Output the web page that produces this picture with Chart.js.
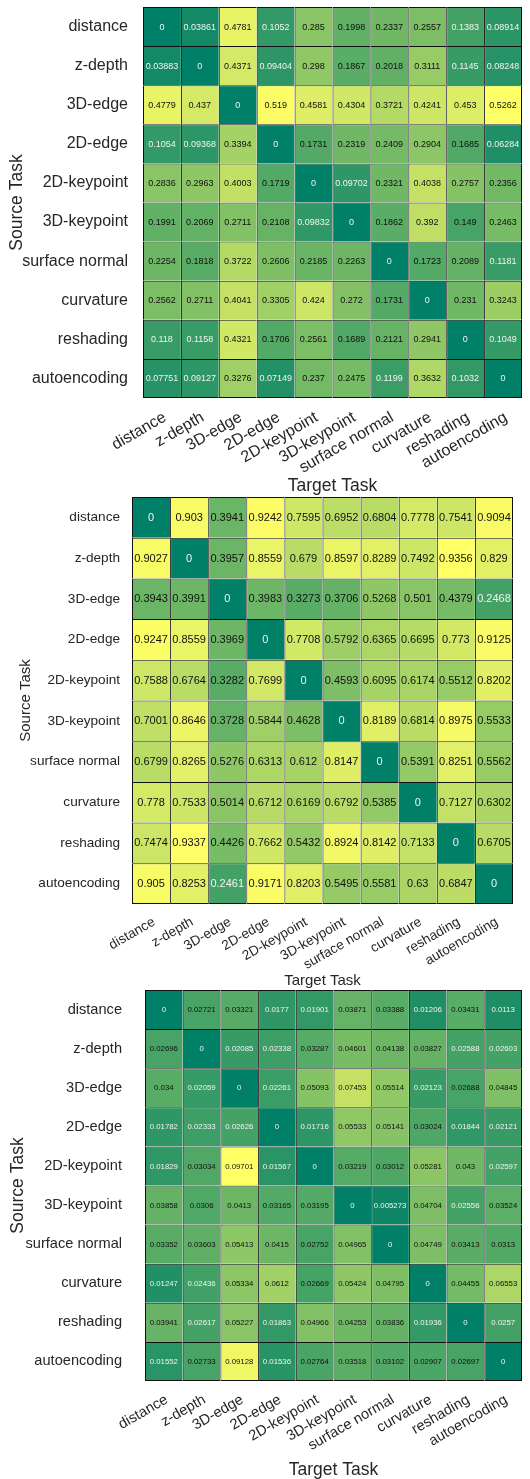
<!DOCTYPE html>
<html>
<head>
<meta charset="utf-8">
<script src="https://cdn.jsdelivr.net/npm/chart.js@4"></script>
<style>
  html, body { margin: 0; padding: 0; background: #fff; }
  body { width: 530px; height: 1479px; position: relative; overflow: hidden; }
  canvas { position: absolute; left: 0; }
</style>
</head>
<body>
<canvas id="map1" width="530" height="500" style="top:0px"></canvas>
<canvas id="map2" width="530" height="500" style="top:495px"></canvas>
<canvas id="map3" width="530" height="494" style="top:985px"></canvas>
<script>
// task names (rows = source, columns = target)
const sourceTasks = ['distance', 'z-depth', '3D-edge', '2D-edge', '2D-keypoint', '3D-keypoint',
    'surface normal', 'curvature', 'reshading', 'autoencoding'];
const targetTasks = ['distance', 'z-depth', '3D-edge', '2D-edge', '2D-keypoint', '3D-keypoint',
    'surface normal', 'curvature', 'reshading', 'autoencoding'];

// top heatmap
const valuesTop = [
    [0, 0.03861, 0.4781, 0.1052, 0.285, 0.1998, 0.2337, 0.2557, 0.1383, 0.08914],
    [0.03883, 0, 0.4371, 0.09404, 0.298, 0.1867, 0.2018, 0.3111, 0.1145, 0.08248],
    [0.4779, 0.437, 0, 0.519, 0.4581, 0.4304, 0.3721, 0.4241, 0.453, 0.5262],
    [0.1054, 0.09368, 0.3394, 0, 0.1731, 0.2319, 0.2409, 0.2904, 0.1685, 0.06284],
    [0.2836, 0.2963, 0.4003, 0.1719, 0, 0.09702, 0.2321, 0.4038, 0.2757, 0.2356],
    [0.1991, 0.2069, 0.2711, 0.2108, 0.09832, 0, 0.1862, 0.392, 0.149, 0.2463],
    [0.2254, 0.1818, 0.3722, 0.2606, 0.2185, 0.2263, 0, 0.1723, 0.2089, 0.1181],
    [0.2562, 0.2711, 0.4041, 0.3305, 0.424, 0.272, 0.1731, 0, 0.231, 0.3243],
    [0.118, 0.1158, 0.4321, 0.1706, 0.2561, 0.1689, 0.2121, 0.2941, 0, 0.1049],
    [0.07751, 0.09127, 0.3276, 0.07149, 0.237, 0.2475, 0.1199, 0.3632, 0.1032, 0]
];

// middle heatmap
const valuesMid = [
    [0, 0.903, 0.3941, 0.9242, 0.7595, 0.6952, 0.6804, 0.7778, 0.7541, 0.9094],
    [0.9027, 0, 0.3957, 0.8559, 0.679, 0.8597, 0.8289, 0.7492, 0.9356, 0.829],
    [0.3943, 0.3991, 0, 0.3983, 0.3273, 0.3706, 0.5268, 0.501, 0.4379, 0.2468],
    [0.9247, 0.8559, 0.3969, 0, 0.7708, 0.5792, 0.6365, 0.6695, 0.773, 0.9125],
    [0.7588, 0.6764, 0.3282, 0.7699, 0, 0.4593, 0.6095, 0.6174, 0.5512, 0.8202],
    [0.7001, 0.8646, 0.3728, 0.5844, 0.4628, 0, 0.8189, 0.6814, 0.8975, 0.5533],
    [0.6799, 0.8265, 0.5276, 0.6313, 0.612, 0.8147, 0, 0.5391, 0.8251, 0.5562],
    [0.778, 0.7533, 0.5014, 0.6712, 0.6169, 0.6792, 0.5385, 0, 0.7127, 0.6302],
    [0.7474, 0.9337, 0.4426, 0.7662, 0.5432, 0.8924, 0.8142, 0.7133, 0, 0.6705],
    [0.905, 0.8253, 0.2461, 0.9171, 0.8203, 0.5495, 0.5581, 0.63, 0.6847, 0]
];

// bottom heatmap
const valuesBottom = [
    [0, 0.02721, 0.03321, 0.0177, 0.01901, 0.03871, 0.03388, 0.01206, 0.03431, 0.0113],
    [0.02696, 0, 0.02085, 0.02338, 0.03287, 0.04601, 0.04138, 0.03827, 0.02588, 0.02603],
    [0.034, 0.02059, 0, 0.02261, 0.05093, 0.07453, 0.05514, 0.02123, 0.02688, 0.04845],
    [0.01782, 0.02333, 0.02626, 0, 0.01716, 0.05533, 0.05141, 0.03024, 0.01844, 0.02121],
    [0.01829, 0.03034, 0.09701, 0.01567, 0, 0.03219, 0.03012, 0.05281, 0.043, 0.02597],
    [0.03858, 0.0306, 0.0413, 0.03165, 0.03195, 0, 0.005273, 0.04704, 0.02556, 0.03524],
    [0.03352, 0.03603, 0.05413, 0.0415, 0.02752, 0.04965, 0, 0.04749, 0.03413, 0.0313],
    [0.01247, 0.02436, 0.05334, 0.0612, 0.02669, 0.05424, 0.04795, 0, 0.04455, 0.06553],
    [0.03941, 0.02617, 0.05227, 0.01863, 0.04966, 0.04253, 0.03836, 0.01936, 0, 0.0257],
    [0.01552, 0.02733, 0.09128, 0.01536, 0.02764, 0.03518, 0.03102, 0.02907, 0.02697, 0]
];

const FONT = '"Liberation Sans", Arial, Helvetica, sans-serif';
const TEXT = '#262626';

// matlab "summer" colormap
function summer(t) {
    t = Math.max(0, Math.min(1, t));
    return 'rgb(' + Math.round(255 * t) + ',' + Math.round(255 * (0.5 + 0.5 * t)) + ',102)';
}

function fmt(v) {
    return String(parseFloat(v.toPrecision(4)));
}

// writes the value inside every cell
const cellLabels = {
    id: 'cellLabels',
    afterDatasetsDraw(chart, args, opts) {
        const ctx = chart.ctx;
        ctx.save();
        ctx.font = opts.size + 'px ' + FONT;
        ctx.textAlign = 'center';
        ctx.textBaseline = 'middle';
        chart.data.datasets.forEach((ds, i) => {
            chart.getDatasetMeta(i).data.forEach((bar, j) => {
                const v = ds.values[j];
                ctx.fillStyle = v / opts.max < 0.273 ? '#f2f2f2' : '#111';
                ctx.fillText(fmt(v), bar.x, (bar.y + bar.base) / 2 + 0.5);
            });
        });
        ctx.restore();
    }
};

function heatmap(id, values, p) {
    const maxV = Math.max(...values.flat());
    const last = sourceTasks.length - 1;
    const datasets = sourceTasks.map((name, i) => ({
        label: name,
        data: targetTasks.map(() => [i, i + 1]),
        values: values[i],
        backgroundColor: values[i].map(v => summer(v / maxV)),
        borderColor: '#111',
        borderWidth: ctx => ({
            top: 1, left: 1,
            right: ctx.dataIndex === targetTasks.length - 1 ? 1 : 0,
            bottom: i === last ? 1 : 0
        }),
        borderSkipped: false,
        inflateAmount: 0,
        barPercentage: 1,
        categoryPercentage: 1,
        grouped: false
    }));

    return new Chart(document.getElementById(id), {
        type: 'bar',
        data: { labels: targetTasks, datasets: datasets },
        plugins: [cellLabels],
        options: {
            responsive: false,
            animation: false,
            layout: { padding: { top: p.top, right: p.right, left: 0, bottom: 0 } },
            plugins: {
                legend: { display: false },
                tooltip: { enabled: false },
                cellLabels: { size: p.cellFont, max: maxV }
            },
            scales: {
                x: {
                    type: 'category',
                    offset: true,
                    grid: { display: false },
                    border: { display: false },
                    ticks: {
                        font: { family: FONT, size: p.tickFont },
                        color: TEXT,
                        minRotation: 30,
                        maxRotation: 30,
                        autoSkip: false,
                        padding: p.xPad,
                        labelOffset: p.xShift
                    },
                    title: {
                        display: true,
                        text: 'Target Task',
                        color: TEXT,
                        font: { family: FONT, size: p.titleFont, lineHeight: 1 },
                        padding: { top: 0, bottom: p.xTitlePad }
                    },
                    afterFit: s => {
                        s.height = p.xHeight;
                        s.paddingLeft = 0;
                        s.paddingRight = 0;
                    }
                },
                y: {
                    type: 'linear',
                    min: 0,
                    max: 10,
                    reverse: true,
                    grid: { display: false },
                    border: { display: false },
                    afterBuildTicks: s => {
                        s.ticks = sourceTasks.map((_, i) => ({ value: i + 0.5 }));
                    },
                    ticks: {
                        font: { family: FONT, size: p.tickFont },
                        color: TEXT,
                        autoSkip: false,
                        padding: p.yPad,
                        callback: v => sourceTasks[Math.floor(v)]
                    },
                    title: {
                        display: true,
                        text: 'Source Task',
                        color: TEXT,
                        font: { family: FONT, size: p.titleFont, lineHeight: 1 },
                        padding: { top: p.yTitlePad, bottom: 0 }
                    },
                    afterFit: s => {
                        s.width = p.yWidth;
                        s.paddingTop = 0;
                        s.paddingBottom = 0;
                    }
                }
            }
        }
    });
}

heatmap('map1', valuesTop, {
    top: 7, right: 8, yWidth: 143, xHeight: 102,
    tickFont: 16, titleFont: 17.5, cellFont: 9,
    xPad: 2, xShift: 3, yPad: 7, xTitlePad: 5, yTitlePad: 8
});
heatmap('map2', valuesMid, {
    top: 2, right: 17, yWidth: 132, xHeight: 91,
    tickFont: 13.6, titleFont: 15, cellFont: 11,
    xPad: 2, xShift: 3, yPad: 4, xTitlePad: 6.5, yTitlePad: 18.5
});
heatmap('map3', valuesBottom, {
    top: 5, right: 8, yWidth: 145, xHeight: 98,
    tickFont: 14.6, titleFont: 17.5, cellFont: 7.8,
    xPad: 2, xShift: 3, yPad: 15, xTitlePad: 0, yTitlePad: 9.5
});
</script>
</body>
</html>
